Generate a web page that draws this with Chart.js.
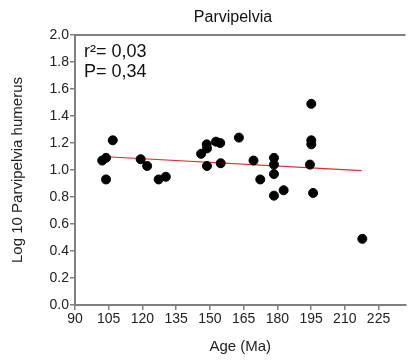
<!DOCTYPE html>
<html>
<head>
<meta charset="utf-8">
<script src="https://cdn.jsdelivr.net/npm/chart.js@4"></script>
<style>
  body { margin: 0; background: #fff; }
  #wrap { width: 411px; height: 360px; }
</style>
</head>
<body>
<div id="wrap"><canvas id="parvipelviaChart"></canvas></div>
<script>
// values
const ageMa = [102.1, 103.8, 103.8, 106.8, 119.2, 122.1, 127.2, 130.4, 146.1, 148.6, 148.7, 148.7,
               152.7, 154.6, 154.8, 162.9, 169.4, 172.4, 178.5, 178.5, 178.5, 178.5, 182.8,
               195.1, 195.1, 195.1, 194.5, 195.9, 217.8];
const logHumerus = [1.07, 1.09, 0.93, 1.22, 1.08, 1.03, 0.93, 0.95, 1.12, 1.19, 1.16, 1.03,
                    1.21, 1.20, 1.05, 1.24, 1.07, 0.93, 1.09, 1.04, 0.97, 0.81, 0.85,
                    1.49, 1.22, 1.19, 1.04, 0.83, 0.49];
const fitAge = [102, 217.5];
const fitLog = [1.10, 0.995];
const xTicks = [90, 105, 120, 135, 150, 165, 180, 195, 210, 225];
const yTicks = [0, 0.2, 0.4, 0.6, 0.8, 1.0, 1.2, 1.4, 1.6, 1.8, 2.0];
const statLines = ['r\u00b2= 0,03', 'P= 0,34'];

const axisGray = '#808080';
const textColor = '#222';

const extras = {
    id: 'extras',
    afterDraw(chart) {
        const c = chart.ctx;
        const a = chart.chartArea;
        c.save();
        // top border line
        c.strokeStyle = axisGray;
        c.lineWidth = 2;
        c.beginPath();
        c.moveTo(a.left, a.top);
        c.lineTo(a.right, a.top);
        c.stroke();
        // title
        c.fillStyle = '#111';
        c.font = '16px "Liberation Sans", Arial, sans-serif';
        c.textAlign = 'center';
        c.textBaseline = 'middle';
        c.fillText('Parvipelvia', 233, 18);
        // stats
        c.font = '18px "Liberation Sans", Arial, sans-serif';
        c.textAlign = 'left';
        c.textBaseline = 'alphabetic';
        statLines.forEach((t, i) => c.fillText(t, a.left + 9, a.top + 22 + i * 20));
        c.restore();
    }
};

const ctx = document.getElementById('parvipelviaChart');

new Chart(ctx, {
    type: 'scatter',
    data: {
        datasets: [{
            label: 'Parvipelvia',
            data: ageMa.map((x, i) => ({ x: x, y: logHumerus[i] })),
            backgroundColor: '#000',
            borderColor: '#000',
            pointRadius: 4.5,
            pointHoverRadius: 4.5
        }, {
            type: 'line',
            label: 'fit',
            data: fitAge.map((x, i) => ({ x: x, y: fitLog[i] })),
            borderColor: '#e8282a',
            borderWidth: 1.2,
            pointRadius: 0,
            fill: false
        }]
    },
    options: {
        responsive: true,
        maintainAspectRatio: false,
        animation: false,
        layout: { padding: { top: 35, right: 0, left: 0, bottom: 0 } },
        plugins: {
            legend: { display: false },
            tooltip: { enabled: false }
        },
        scales: {
            x: {
                type: 'linear',
                min: 90,
                max: 237,
                afterBuildTicks: (scale) => { scale.ticks = xTicks.map(v => ({ value: v })); },
                afterFit: (scale) => { scale.height = 55; },
                border: { color: axisGray, width: 2 },
                grid: { drawOnChartArea: false, color: axisGray, tickLength: 5, lineWidth: 1.5 },
                ticks: {
                    color: textColor,
                    padding: 1,
                    maxRotation: 0,
                    font: { size: 14, family: '"Liberation Sans", Arial, sans-serif' }
                },
                title: {
                    display: true,
                    text: 'Age (Ma)',
                    color: textColor,
                    padding: { top: 0 },
                    font: { size: 15, family: '"Liberation Sans", Arial, sans-serif' }
                }
            },
            y: {
                min: 0,
                max: 2,
                afterBuildTicks: (scale) => { scale.ticks = yTicks.map(v => ({ value: v })); },
                afterFit: (scale) => { scale.width = 75; },
                border: { color: axisGray, width: 2 },
                grid: { drawOnChartArea: false, color: axisGray, tickLength: 5, lineWidth: 1.5 },
                ticks: {
                    color: textColor,
                    padding: 1,
                    callback: (v) => v.toFixed(1),
                    font: { size: 14, family: '"Liberation Sans", Arial, sans-serif' }
                },
                title: {
                    display: true,
                    text: 'Log 10 Parvipelvia humerus',
                    color: textColor,
                    padding: { top: 9, bottom: 0 },
                    font: { size: 15, family: '"Liberation Sans", Arial, sans-serif' }
                }
            }
        }
    },
    plugins: [extras]
});
</script>
</body>
</html>
